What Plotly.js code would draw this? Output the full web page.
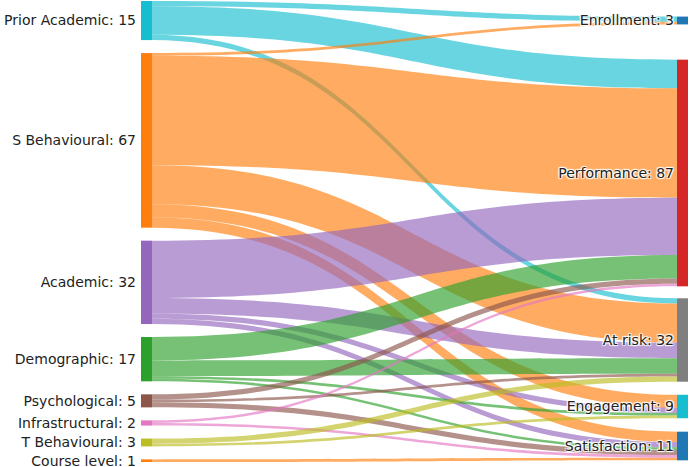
<!DOCTYPE html>
<html>
<head>
<meta charset="utf-8">
<script src="https://cdn.plot.ly/plotly-3.0.1.min.js"></script>
<style>html,body{margin:0;padding:0;background:#fff;}#chart{width:690px;height:467px;}</style>
</head>
<body>
<div id="chart"></div>
<script>
// Node names (sources first, then targets)
const sourceNames = ['Prior Academic','S Behavioural','Academic','Demographic','Psychological','Infrastructural','T Behavioural','Course level'];
const targetNames = ['Enrollment','Performance','At risk','Engagement','Satisfaction'];
const nodeNames = sourceNames.concat(targetNames);
const nodeColors = ['#17becf','#ff7f0e','#9467bd','#2ca02c','#8c564b','#e377c2','#bcbd22','#ff7f0e',
                    '#1f77b4','#d62728','#7f7f7f','#17becf','#1f77b4'];
// Links: source -> target : value
const linkSource = [0,0,0, 1,1,1,1,1, 2,2,2,2, 3,3,3,3, 4,4,4, 5,5, 6,6, 7];
const linkTarget = [8,9,10, 8,9,10,11,12, 9,10,11,12, 9,10,11,12, 9,10,12, 9,12, 10,11, 12];
const linkValue  = [2,11,2, 1,42,15,5,4, 22,6,2,2, 9,6,1,1, 2,1,2, 1,1, 2,1, 1];

// ---- layout constants (not data) ----
const W = 690, H = 467, MT = 1, MB = 5;
const PAD = 13, THICK = 11;
const plotH = H - MT - MB;
const leftX = 146.5 / W, rightX = 682.5 / W;
const rightCentersPx = [19.5, 172, 339, 405.5, 445]; // centers of target nodes within plot area

function hexToRgba(h, a){
  const r=parseInt(h.slice(1,3),16), g=parseInt(h.slice(3,5),16), b=parseInt(h.slice(5,7),16);
  return 'rgba('+r+','+g+','+b+','+a+')';
}
const totals = nodeNames.map(()=>({in:0,out:0}));
linkSource.forEach((s,i)=>{ totals[s].out += linkValue[i]; totals[linkTarget[i]].in += linkValue[i]; });
const nodeVal = nodeNames.map((n,i)=> Math.max(totals[i].in, totals[i].out));
const labels = nodeNames.map((n,i)=> n + ': ' + nodeVal[i]);

// stack the source column from the top
const grand = sourceNames.reduce((a,n,i)=>a+nodeVal[i],0);
const ky = (plotH - (sourceNames.length-1)*PAD) / grand;
const nodeX = [], nodeY = [];
let y0 = 0;
sourceNames.forEach((n,i)=>{
  const h = nodeVal[i]*ky;
  nodeX.push(leftX); nodeY.push((y0 + h/2)/plotH);
  y0 += h + PAD;
});
targetNames.forEach((n,j)=>{ nodeX.push(rightX); nodeY.push(rightCentersPx[j]/plotH); });

const FONT = 'DejaVu Sans, sans-serif';
const data = [{
  type: 'sankey',
  orientation: 'h',
  arrangement: 'fixed',
  node: {
    label: labels,
    color: nodeColors,
    pad: PAD,
    thickness: THICK,
    line: {width: 0},
    x: nodeX,
    y: nodeY
  },
  link: {
    source: linkSource,
    target: linkTarget,
    value: linkValue,
    color: linkSource.map(s => hexToRgba(nodeColors[s], 0.65))
  },
  textfont: {family: FONT, size: 14, color: '#222'}
}];
const layout = {
  width: W, height: H,
  margin: {l: 0, r: 0, t: MT, b: MB},
  paper_bgcolor: '#fff',
  font: {family: FONT, size: 14}
};
Plotly.newPlot('chart', data, layout, {displayModeBar: false, staticPlot: true}).then(function(){
  // put source-column labels on the left side of their nodes
  document.querySelectorAll('.sankey-node').forEach(function(g){
    const t = g.querySelector('text.node-label');
    if(!t) return;
    const name = t.textContent.split(':')[0];
    if(sourceNames.indexOf(name) < 0) return;
    const tr = t.getAttribute('transform') || '';
    const m = tr.match(/translate\(\s*([-\d.e]+)[ ,]+([-\d.e]+)\s*\)/);
    const ty = m ? m[2] : 0;
    t.setAttribute('text-anchor', 'end');
    t.setAttribute('transform', 'translate(-5,' + ty + ')');
  });
});
</script>
</body>
</html>
